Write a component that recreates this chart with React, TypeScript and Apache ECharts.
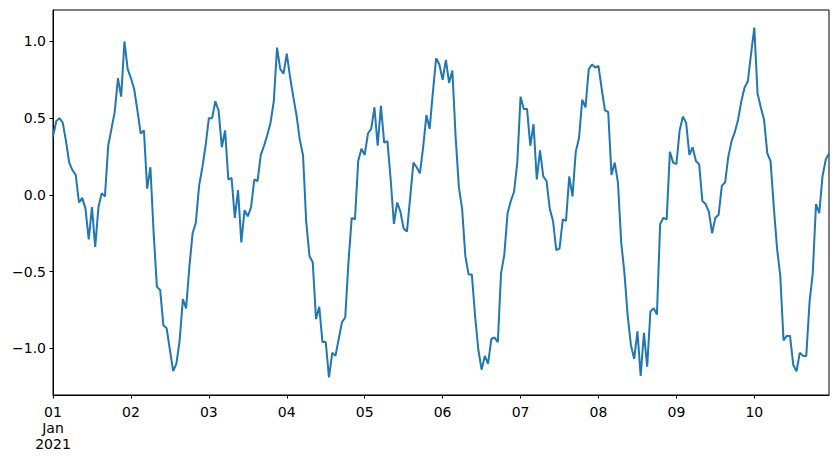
import React, { useEffect, useRef } from "react";
import * as echarts from "echarts";

// Hourly values, 2021-01-01 00:00 .. 2021-01-10 23:00
const day01 = [0.38, 0.48, 0.50, 0.47, 0.35, 0.21, 0.16, 0.13, -0.05, -0.02, -0.09, -0.29, -0.08, -0.34, -0.08, 0.01, -0.01, 0.32, 0.43, 0.54, 0.76, 0.64, 1.00, 0.82];
const day02 = [0.76, 0.69, 0.55, 0.40, 0.42, 0.04, 0.18, -0.25, -0.60, -0.62, -0.85, -0.87, -1.01, -1.15, -1.10, -0.95, -0.68, -0.74, -0.47, -0.25, -0.18, 0.06, 0.18, 0.32];
const day03 = [0.50, 0.50, 0.61, 0.55, 0.31, 0.42, 0.10, 0.11, -0.15, 0.03, -0.31, -0.10, -0.14, -0.08, 0.10, 0.09, 0.26, 0.32, 0.39, 0.47, 0.61, 0.96, 0.82, 0.79];
const day04 = [0.92, 0.77, 0.64, 0.52, 0.36, 0.26, -0.18, -0.40, -0.44, -0.81, -0.73, -0.96, -0.96, -1.19, -1.03, -1.05, -0.94, -0.83, -0.80, -0.44, -0.15, -0.16, 0.22, 0.30];
const day05 = [0.26, 0.40, 0.43, 0.57, 0.32, 0.58, 0.34, 0.35, 0.10, -0.19, -0.05, -0.11, -0.22, -0.24, -0.02, 0.21, 0.18, 0.14, 0.31, 0.52, 0.43, 0.67, 0.89, 0.85];
const day06 = [0.75, 0.88, 0.73, 0.81, 0.38, 0.05, -0.09, -0.40, -0.52, -0.52, -0.79, -1.01, -1.14, -1.05, -1.10, -0.94, -0.93, -0.96, -0.51, -0.39, -0.12, -0.04, 0.02, 0.21];
const day07 = [0.64, 0.56, 0.56, 0.32, 0.46, 0.10, 0.29, 0.12, 0.09, -0.09, -0.17, -0.36, -0.35, -0.16, -0.17, 0.12, -0.01, 0.28, 0.37, 0.62, 0.57, 0.82, 0.85, 0.83];
const day08 = [0.84, 0.69, 0.55, 0.54, 0.13, 0.21, 0.08, -0.31, -0.51, -0.79, -0.98, -1.07, -0.89, -1.18, -0.90, -1.12, -0.76, -0.74, -0.78, -0.19, -0.15, -0.16, 0.28, 0.21];
const day09 = [0.20, 0.42, 0.51, 0.47, 0.26, 0.31, 0.22, 0.20, -0.04, -0.06, -0.11, -0.25, -0.15, -0.13, 0.06, 0.08, 0.25, 0.35, 0.41, 0.49, 0.61, 0.70, 0.74, 0.92];
const day10 = [1.09, 0.66, 0.57, 0.49, 0.27, 0.22, -0.08, -0.35, -0.53, -0.95, -0.92, -0.92, -1.11, -1.15, -1.03, -1.05, -1.05, -0.70, -0.51, -0.06, -0.12, 0.12, 0.23, 0.27];

const dayLabels = ["01\nJan\n2021", "02", "03", "04", "05", "06", "07", "08", "09", "10"];
const yTicks = [-1.0, -0.5, 0.0, 0.5, 1.0];

const values = [
  ...day01, ...day02, ...day03, ...day04, ...day05,
  ...day06, ...day07, ...day08, ...day09, ...day10,
];

export default function App() {
  const ref = useRef<HTMLDivElement>(null);
  useEffect(() => {
    if (!ref.current) return;
    const chart = echarts.init(ref.current, null, { renderer: "svg" });
    const dayTicks = dayLabels.map((_, i) => i * 24);
    const font = "DejaVu Sans";
    chart.setOption({
      animation: false,
      backgroundColor: "#fff",
      grid: {
        left: 53,
        right: 9,
        top: 10,
        bottom: 66,
        show: true,
        borderColor: "#000",
        borderWidth: 1,
        backgroundColor: "transparent",
      },
      xAxis: {
        type: "value",
        min: 0,
        max: values.length - 1,
        axisLine: { show: true, onZero: false, lineStyle: { color: "#000", width: 1 } },
        axisTick: {
          show: true,
          inside: false,
          length: 3.5,
          customValues: dayTicks,
          lineStyle: { color: "#000", width: 1 },
        },
        axisLabel: {
          customValues: dayTicks,
          formatter: (v: number) => dayLabels[Math.round(v / 24)] ?? "",
          color: "#000",
          fontSize: 14,
          fontFamily: font,
          margin: 9,
          lineHeight: 16,
          align: "center",
        },
        splitLine: { show: false },
      },
      yAxis: {
        type: "value",
        min: -1.305,
        max: 1.205,
        axisLine: { show: true, onZero: false, lineStyle: { color: "#000", width: 1 } },
        axisTick: {
          show: true,
          inside: false,
          length: 3.5,
          customValues: yTicks,
          lineStyle: { color: "#000", width: 1 },
        },
        axisLabel: {
          customValues: yTicks,
          formatter: (v: number) => v.toFixed(1).replace("-", "\u2212"),
          color: "#000",
          fontSize: 14,
          fontFamily: font,
          margin: 7,
        },
        splitLine: { show: false },
      },
      series: [
        {
          type: "line",
          data: values.map((v, i) => [i, v]),
          showSymbol: false,
          symbol: "none",
          lineStyle: { color: "#1f77b4", width: 2 },
          itemStyle: { color: "#1f77b4" },
        },
      ],
    });
    return () => chart.dispose();
  }, []);
  return (
    <div
      ref={ref}
      style={{ position: "fixed", left: 0, top: 0, width: 838, height: 461 }}
    />
  );
}
